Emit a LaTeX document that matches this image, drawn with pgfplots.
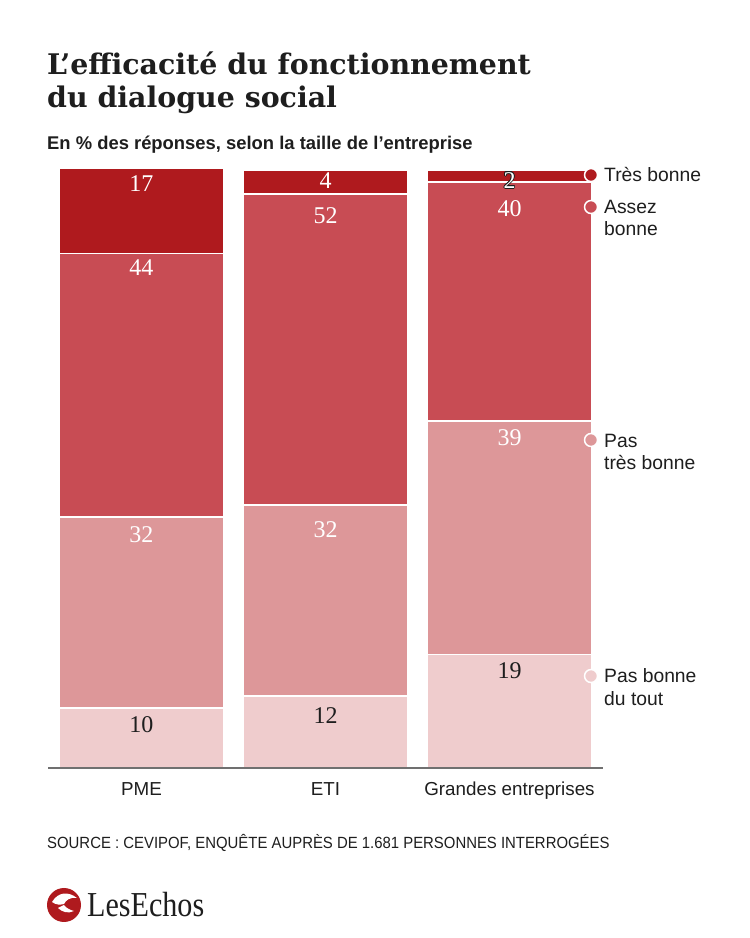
\documentclass[border=0pt]{standalone}
\usepackage{pgfplots}
\pgfplotsset{compat=1.18}
\usepackage{fontspec}
\setmainfont{Liberation Sans}
\newfontfamily\titlefont{DejaVu Serif}
\newfontfamily\valfont{Liberation Serif}
\newfontfamily\logofont{Liberation Serif}
\usepackage{contour}
\contourlength{0.7pt}
\definecolor{c1}{HTML}{AF1A1E}
\definecolor{c2}{HTML}{C84C54}
\definecolor{c3}{HTML}{DD9799}
\definecolor{c4}{HTML}{EFCCCD}
\definecolor{txt}{HTML}{1E1E1E}
\definecolor{axgray}{HTML}{707070}
\pgfplotsset{
  geom/.style={
    at={(48pt,170pt)}, anchor=south west, scale only axis,
    width=555pt, height=598pt,
    xmin=-0.508, xmax=2.508, ymin=0, ymax=100,
  }
}
\begin{document}
\begin{tikzpicture}
\begin{scope}[x=1pt,y=1pt]
\path[use as bounding box] (0,0) rectangle (750,938);
\fill[white] (0,0) rectangle (750,938);
% titles
\node[anchor=base west, inner sep=0, text=txt] at (47,863) {\titlefont\bfseries\fontsize{28.4}{28.4}\selectfont L’efficacité du fonctionnement};
\node[anchor=base west, inner sep=0, text=txt] at (47,830) {\titlefont\bfseries\fontsize{28.4}{28.4}\selectfont du dialogue social};
\node[anchor=base west, inner sep=0, text=txt] at (47,788) {\bfseries\fontsize{18.4}{18.4}\selectfont En \% des réponses, selon la taille de l’entreprise};
\end{scope}
% bars
\begin{axis}[geom,
  axis on top,
  ybar stacked, bar width=164pt,
  axis x line*=bottom, axis y line=none,
  x axis line style={draw=axgray, line width=2pt},
  xtick={0,1,2}, xticklabels={PME,ETI,Grandes entreprises},
  major tick length=0pt, ytick=\empty,
  xticklabel style={anchor=base, yshift=-28pt, text=txt, font=\fontsize{18.8}{18.8}\selectfont},
]
\addplot[fill=c4, draw=white, line width=1.5pt] coordinates {(0,10) (1,12) (2,19)};
\addplot[fill=c3, draw=white, line width=1.5pt] coordinates {(0,32) (1,32) (2,39)};
\addplot[fill=c2, draw=white, line width=1.5pt] coordinates {(0,44) (1,52) (2,40)};
\addplot[fill=c1, draw=white, line width=1.5pt] coordinates {(0,17) (1,4) (2,2)};
\end{axis}
% labels and legend dots
\begin{axis}[geom, axis lines=none, clip=false]
\addplot[only marks, mark=none, nodes near coords, point meta=explicit symbolic,
  nodes near coords align=center,
  every node near coord/.append style={text=white, font=\valfont\fontsize{24}{24}\selectfont}]
  coordinates {(0,97.7)[17] (1,98.2)[4] (0,83.6)[44] (1,92.3)[52] (2,93.6)[40]
               (0,39.0)[32] (1,39.8)[32] (2,55.2)[39]};
\addplot[only marks, mark=none, nodes near coords, point meta=explicit symbolic,
  nodes near coords align=center,
  every node near coord/.append style={text=txt, font=\valfont\fontsize{24}{24}\selectfont}]
  coordinates {(0,7.2)[10] (1,8.7)[12] (2,16.2)[19]};
\addplot[only marks, mark=none, nodes near coords, point meta=explicit symbolic,
  nodes near coords align=center,
  every node near coord/.append style={font=\valfont\fontsize{24}{24}\selectfont}]
  coordinates {(2,98.2)[\contour{txt}{\textcolor{white}{2}}]};
\addplot[only marks, mark=*, mark size=6.5pt, mark options={fill=c1, draw=white, line width=1.5pt}] coordinates {(2.443,99.16)};
\addplot[only marks, mark=*, mark size=6.5pt, mark options={fill=c2, draw=white, line width=1.5pt}] coordinates {(2.443,93.81)};
\addplot[only marks, mark=*, mark size=6.5pt, mark options={fill=c3, draw=white, line width=1.5pt}] coordinates {(2.443,54.85)};
\addplot[only marks, mark=*, mark size=6.5pt, mark options={fill=c4, draw=white, line width=1.5pt}] coordinates {(2.443,15.38)};
\end{axis}
\begin{scope}[x=1pt,y=1pt]
% legend text
\begin{scope}[every node/.style={anchor=base west, inner sep=0, text=txt, font=\fontsize{19.3}{19.3}\selectfont}]
\node at (604,756.5) {Très bonne};
\node at (604,724.5) {Assez};
\node at (604,702) {bonne};
\node at (604,490) {Pas};
\node at (604,468) {très bonne};
\node at (604,255) {Pas bonne};
\node at (604,232) {du tout};
\end{scope}
% source
\node[anchor=base west, inner sep=0, text=txt] at (47,89) {\scalebox{0.92}[1]{\fontsize{16.2}{16.2}\selectfont SOURCE : CEVIPOF, ENQUÊTE AUPRÈS DE 1.681 PERSONNES INTERROGÉES}};
% logo
\fill[c1] (64,33) circle (17);
\fill[white] (52,36) .. controls (58,46) and (68,47) .. (77,40) .. controls (70,41) and (66,38) .. (64,34) .. controls (60,33) and (56,33) .. cycle;
\fill[white] (58,30) .. controls (62,26) and (68,24) .. (74,27) .. controls (70,28) and (66,30) .. (64,33) -- cycle;
\node[anchor=base west, inner sep=0, text=txt] at (87,21) {\scalebox{0.86}[1]{\logofont\fontsize{35}{35}\selectfont LesEchos}};
\end{scope}
\end{tikzpicture}
\end{document}
